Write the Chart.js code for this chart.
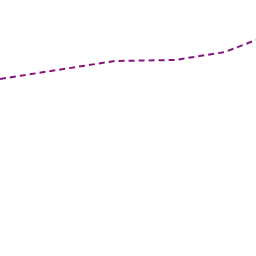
<!DOCTYPE html>
<html>
<head>
<meta charset="utf-8">
<script src="https://cdn.jsdelivr.net/npm/chart.js@4"></script>
<style>
  html, body { margin: 0; padding: 0; background: #ffffff; }
  #wrap { width: 256px; height: 256px; }
</style>
</head>
<body>
<div id="wrap"><canvas id="chart" width="256" height="256"></canvas></div>
<script>
// 데이터
const xValues = [0, 57, 115, 175, 225, 256];
const yValues = [177, 186, 195, 196, 204, 216];

const points = xValues.map((x, i) => ({ x, y: yValues[i] }));

const ctx = document.getElementById("chart").getContext("2d");
new Chart(ctx, {
  type: "line",
  data: {
    datasets: [
      {
        data: points,
        borderColor: "#85157d",
        borderWidth: 2,
        borderDash: [6, 4],
        pointRadius: 0,
        fill: false,
        tension: 0,
      },
    ],
  },
  options: {
    responsive: false,
    animation: false,
    layout: { padding: 0 },
    plugins: {
      legend: { display: false },
      tooltip: { enabled: false },
    },
    scales: {
      x: { type: "linear", display: false, min: 0, max: 256 },
      y: { type: "linear", display: false, min: 0, max: 256 },
    },
  },
});
</script>
</body>
</html>
